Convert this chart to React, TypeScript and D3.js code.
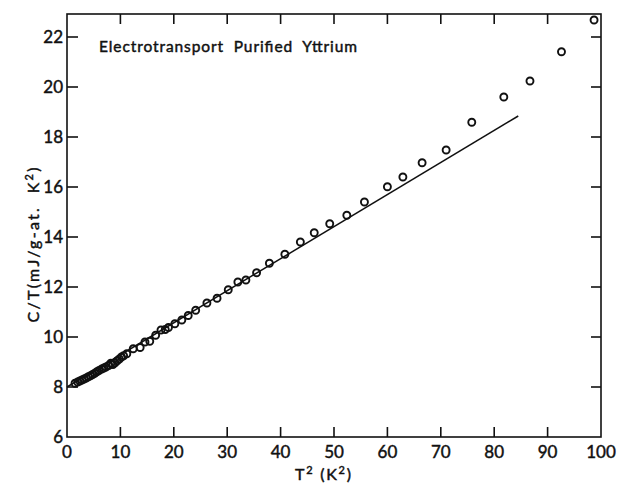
import React from 'react';
import * as d3 from 'd3';

// measured points, T^2 (K^2) and C/T (mJ/g-at. K^2)
const t2 = [
  1.5, 2.0, 2.4, 2.8, 3.2, 3.6, 4.0, 4.4, 4.8, 5.2, 5.6, 6.0, 6.5, 6.9, 7.3, 7.8,
  8.2, 8.6, 9.0, 9.4, 9.8, 10.2, 10.6, 11.2, 12.4, 13.7, 14.6, 15.5, 16.6, 17.6,
  18.4, 19.0, 20.2, 21.5, 22.7, 24.1, 26.2, 28.1, 30.2, 32.0, 33.5, 35.5, 37.9,
  40.8, 43.7, 46.3, 49.2, 52.4, 55.7, 60.0, 62.9, 66.5, 71.0, 75.8, 81.8, 86.7,
  92.6, 98.7,
];
const ct = [
  8.15, 8.2, 8.24, 8.28, 8.32, 8.36, 8.41, 8.45, 8.5, 8.55, 8.61, 8.66, 8.72, 8.76,
  8.8, 8.86, 8.95, 8.9, 8.97, 9.05, 9.12, 9.2, 9.25, 9.33, 9.53, 9.58, 9.8, 9.83,
  10.07, 10.28, 10.3, 10.38, 10.53, 10.68, 10.86, 11.07, 11.36, 11.55, 11.89, 12.2,
  12.28, 12.57, 12.95, 13.31, 13.8, 14.17, 14.53, 14.87, 15.4, 16.01, 16.4, 16.97,
  17.48, 18.59, 19.6, 20.24, 21.41, 22.68,
];

// straight line fit
const fitT2 = [0, 84.5];
const fitCT = [8.0, 18.84];

const xTicks = [0, 10, 20, 30, 40, 50, 60, 70, 80, 90, 100];
const yTicks = [6, 8, 10, 12, 14, 16, 18, 20, 22];

const title = 'Electrotransport  Purified  Yttrium';

const W = 621;
const H = 483;
const margin = { top: 14, right: 20, bottom: 46, left: 67 };

export default function App() {
  const x = d3.scaleLinear().domain([0, 100]).range([margin.left, W - margin.right]);
  const y = d3.scaleLinear().domain([6, 22.92]).range([H - margin.bottom, margin.top]);

  const x0 = x(0), x1 = x(100), y0 = y(6), y1 = y(22.92);
  const tick = 10;
  const font = 'Lato, "Open Sans", sans-serif';
  const txt = { fontFamily: font, fill: '#111', stroke: '#111', strokeWidth: 0.45 };

  const line = d3.line<number>()
    .x((d, i) => x(fitT2[i]))
    .y(d => y(d));

  return (
    <svg width={W} height={H} style={{ position: 'absolute', left: 0, top: 0, background: '#fff' }}>
      <g stroke="#111" strokeWidth={1.6} fill="none">
        <rect x={x0} y={y1} width={x1 - x0} height={y0 - y1} />
        {xTicks.slice(1, -1).map(t => (
          <g key={'xt' + t}>
            <line x1={x(t)} x2={x(t)} y1={y0} y2={y0 - tick} />
            <line x1={x(t)} x2={x(t)} y1={y1} y2={y1 + tick} />
          </g>
        ))}
        {yTicks.slice(1).map(t => (
          <g key={'yt' + t}>
            <line x1={x0} x2={x0 + tick + 1} y1={y(t)} y2={y(t)} />
            <line x1={x1} x2={x1 - tick} y1={y(t)} y2={y(t)} />
          </g>
        ))}
      </g>

      <path d={line(fitCT) || ''} stroke="#111" strokeWidth={1.5} fill="none" />

      <g stroke="#111" strokeWidth={1.9} fill="none">
        {t2.map((t, i) => (
          <circle key={i} cx={x(t)} cy={y(ct[i])} r={3.5} />
        ))}
      </g>

      <g {...txt} fontSize={17}>
        {xTicks.map(t => (
          <text key={'xl' + t} x={x(t)} y={y0 + 21} textAnchor="middle">{t}</text>
        ))}
        {yTicks.map(t => (
          <text key={'yl' + t} x={x0 - 4} y={y(t) + 6} textAnchor="end">{t}</text>
        ))}
      </g>

      <text x={99} y={52} {...txt} fontSize={15.5} textLength={258} xmlSpace="preserve">
        {title}
      </text>

      <text x={323} y={480} {...txt} fontSize={16} textAnchor="middle" textLength={56}>
        T<tspan dy={-6} fontSize={11}>2</tspan><tspan dy={6}> (K</tspan><tspan dy={-6} fontSize={11}>2</tspan><tspan dy={6}>)</tspan>
      </text>

      <text transform="translate(39,245) rotate(-90)" {...txt} fontSize={16} textAnchor="middle" textLength={155} xmlSpace="preserve">
        C/T(mJ/g-at.  K<tspan dy={-6} fontSize={11}>2</tspan><tspan dy={6}>)</tspan>
      </text>
    </svg>
  );
}
